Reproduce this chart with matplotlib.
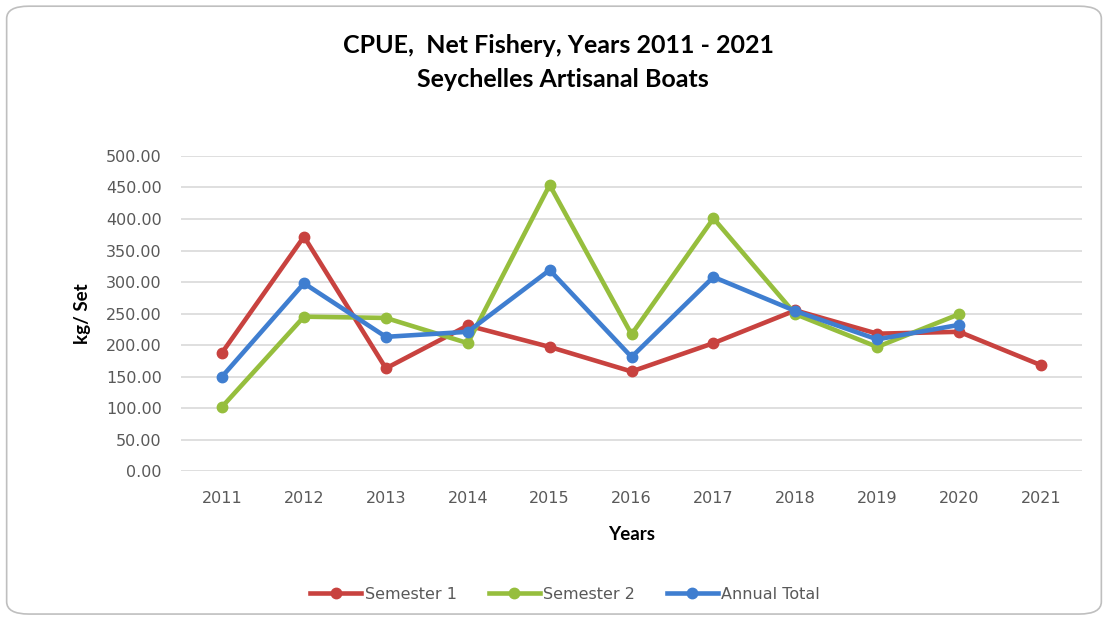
import numpy as np
import matplotlib.pyplot as plt
from matplotlib.patches import FancyBboxPatch

# data
years = ["2011", "2012", "2013", "2014", "2015", "2016", "2017", "2018", "2019", "2020", "2021"]
sem1 = [188, 372, 163, 231, 197, 158, 203, 255, 218, 221, 168]
sem2 = [102, 245, 243, 203, 454, 217, 401, 249, 197, 249, None]
annual = [150, 298, 213, 221, 319, 181, 308, 254, 209, 232, None]

plt.rcParams['font.family'] = ['Lato', 'DejaVu Sans']

fig = plt.figure(figsize=(11.08, 6.19), dpi=100)
fig.patch.set_facecolor("white")

# rounded chart border
border = FancyBboxPatch((0.006, 0.008), 0.988, 0.982, boxstyle="round,pad=0,rounding_size=0.02",
                        transform=fig.transFigure, facecolor="none", edgecolor="#BFBFBF",
                        linewidth=1.2, zorder=-1)
fig.patches.append(border)

ax = fig.add_axes([0.1635, 0.239, 0.813, 0.509])
ax.set_facecolor("none")

x = np.arange(len(years))
s2 = np.array([np.nan if v is None else v for v in sem2], dtype=float)
at = np.array([np.nan if v is None else v for v in annual], dtype=float)

ax.plot(x, sem1, color="#C8423F", lw=3.3, marker="o", ms=7.5, label="Semester 1", zorder=3)
ax.plot(x, s2, color="#96BE3D", lw=3.3, marker="o", ms=7.5, label="Semester 2", zorder=3)
ax.plot(x, at, color="#3F7ED0", lw=3.3, marker="o", ms=7.5, label="Annual Total", zorder=3)

ax.set_xlim(-0.5, len(years) - 0.5)
ax.set_ylim(0, 500)
ax.set_yticks(np.arange(0, 501, 50))
ax.set_yticklabels(["%.2f" % v for v in np.arange(0, 501, 50)])
ax.set_xticks(x)
ax.set_xticklabels(years)
ax.grid(axis="y", color="#D9D9D9", lw=1.2)
ax.set_axisbelow(True)
for sp in ax.spines.values():
    sp.set_visible(False)
ax.tick_params(length=0, colors="#595959")
ax.tick_params(axis="y", pad=14)
ax.tick_params(axis="x", pad=14.5)
for lbl in ax.get_xticklabels() + ax.get_yticklabels():
    lbl.set_family("DejaVu Sans")
    lbl.set_fontsize(11.5)

ax.set_xlabel("Years", fontsize=13.5, fontweight="bold", labelpad=14)
ax.set_ylabel("kg/ Set", fontsize=13.5, fontweight="bold", labelpad=11)

fig.text(0.504, 0.927, "CPUE,  Net Fishery, Years 2011 - 2021", ha="center", va="center",
         fontsize=18, fontweight="bold")
fig.text(0.508, 0.872, "Seychelles Artisanal Boats", ha="center", va="center",
         fontsize=18, fontweight="bold")

leg = ax.legend(loc="center", ncol=3, frameon=False, handlelength=3.2,
                columnspacing=2.0, handletextpad=0.2, labelcolor="#595959",
                prop={"family": "DejaVu Sans", "size": 11.5})
leg.set_bbox_to_anchor((0.51, 0.04), transform=fig.transFigure)

fig.savefig("out.png", dpi=100)
